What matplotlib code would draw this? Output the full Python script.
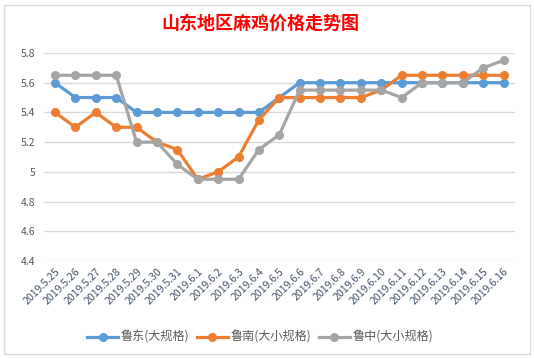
import matplotlib.pyplot as plt
from matplotlib.patches import Rectangle

plt.rcParams['font.family'] = ['Noto Sans CJK SC', 'DejaVu Sans']

dates = ['2019.5.25', '2019.5.26', '2019.5.27', '2019.5.28', '2019.5.29', '2019.5.30',
         '2019.5.31', '2019.6.1', '2019.6.2', '2019.6.3', '2019.6.4', '2019.6.5',
         '2019.6.6', '2019.6.7', '2019.6.8', '2019.6.9', '2019.6.10', '2019.6.11',
         '2019.6.12', '2019.6.13', '2019.6.14', '2019.6.15', '2019.6.16']
ludong = [5.6, 5.5, 5.5, 5.5, 5.4, 5.4, 5.4, 5.4, 5.4, 5.4, 5.4, 5.5,
          5.6, 5.6, 5.6, 5.6, 5.6, 5.6, 5.6, 5.6, 5.6, 5.6, 5.6]
lunan = [5.4, 5.3, 5.4, 5.3, 5.3, 5.2, 5.15, 4.95, 5.0, 5.1, 5.35, 5.5,
         5.5, 5.5, 5.5, 5.5, 5.55, 5.65, 5.65, 5.65, 5.65, 5.65, 5.65]
luzhong = [5.65, 5.65, 5.65, 5.65, 5.2, 5.2, 5.05, 4.95, 4.95, 4.95, 5.15, 5.25,
           5.55, 5.55, 5.55, 5.55, 5.55, 5.5, 5.6, 5.6, 5.6, 5.7, 5.75]
names = ['鲁东(大规格)', '鲁南(大小规格)', '鲁中(大小规格)']
colors = ['#5B9BD5', '#ED7D31', '#A5A5A5']
yticks = [4.4, 4.6, 4.8, 5.0, 5.2, 5.4, 5.6, 5.8]
ylabels = ['4.4', '4.6', '4.8', '5', '5.2', '5.4', '5.6', '5.8']

fig = plt.figure(figsize=(5.34, 3.58), dpi=100)
ax = fig.add_axes([0.082, 0.271, 0.882, 0.581])

x = list(range(len(dates)))
for vals, name, c in zip([ludong, lunan, luzhong], names, colors):
    ax.plot(x, vals, color=c, lw=2.3, marker='o', ms=5.5, label=name)

ax.set_xlim(-0.55, len(dates) - 0.45)
ax.set_ylim(4.4, 5.8)
ax.set_yticks(yticks)
ax.set_yticklabels(ylabels)
ax.set_xticks(x)
ax.set_xticklabels(dates, rotation=45, ha='right', va='top', rotation_mode='anchor')
ax.tick_params(axis='y', length=0, labelsize=7.5, labelcolor='#595959', pad=6)
ax.tick_params(axis='x', length=0, labelsize=7.6, labelcolor='#44546A', pad=4)
ax.grid(axis='y', color='#D9D9D9', lw=1)
ax.set_axisbelow(True)
for s in ax.spines.values():
    s.set_visible(False)

fig.text(0.487, 0.935, '山东地区麻鸡价格走势图', color='#FF0000', fontsize=13,
         fontweight='bold', ha='center', va='center')
fig.legend(loc='center', bbox_to_anchor=(0.487, 0.058), ncol=3, frameon=False,
           fontsize=8.7, handlelength=2.6, columnspacing=0.6, handletextpad=0.2,
           labelcolor='#595959')

fig.patches.append(Rectangle((0.008, 0.012), 0.984, 0.975, transform=fig.transFigure,
                             fill=False, edgecolor='#D9D9D9', lw=1))

fig.savefig('out.png', dpi=100)
